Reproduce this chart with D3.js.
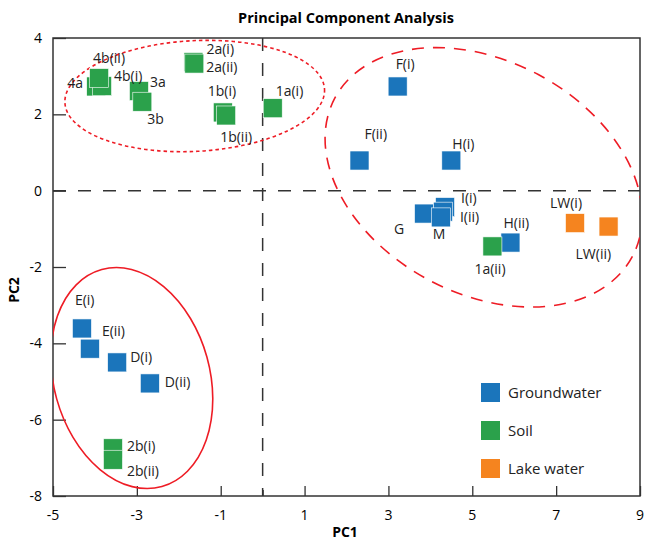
<!DOCTYPE html>
<html lang="en">
<head>
    <meta charset="UTF-8">
    <title>Principal Component Analysis</title>
    <script src="https://d3js.org/d3.v7.min.js"></script>
    <style>
        body {
            margin: 0;
            padding: 0;
            background: #fff;
            font-family: "Open Sans", Arial, sans-serif;
        }
    </style>
</head>
<body>
    <div id="chart"></div>
    <script>
        // sample data
        const groundwaterNames = ["F(i)", "F(ii)", "H(i)", "G", "I(i)", "I(ii)", "M", "H(ii)", "E(i)", "E(ii)", "D(i)", "D(ii)"];
        const groundwaterPC1 = [3.22, 2.31, 4.50, 3.85, 4.35, 4.30, 4.25, 5.91, -4.31, -4.12, -3.47, -2.69];
        const groundwaterPC2 = [2.73, 0.79, 0.79, -0.60, -0.43, -0.55, -0.70, -1.36, -3.61, -4.14, -4.50, -5.05];

        const soilNames = ["2b(i)", "2b(ii)", "1a(ii)", "2a(i)", "2a(ii)", "1b(i)", "1b(ii)", "1a(i)", "3a", "3b", "4a", "4b(i)", "4b(ii)"];
        const soilPC1 = [-3.57, -3.57, 5.48, -1.65, -1.63, -0.95, -0.87, 0.24, -2.95, -2.87, -3.97, -3.83, -3.90];
        const soilPC2 = [-6.75, -7.05, -1.46, 3.37, 3.33, 2.05, 1.97, 2.16, 2.61, 2.33, 2.73, 2.74, 2.95];

        const lakeNames = ["LW(i)", "LW(ii)"];
        const lakePC1 = [7.45, 8.25];
        const lakePC2 = [-0.85, -0.94];

        const legendLabels = ["Groundwater", "Soil", "Lake water"];
        const xTicks = [-5, -3, -1, 1, 3, 5, 7, 9];
        const yTicks = [4, 2, 0, -2, -4, -6, -8];

        // cluster outlines (data units, angle in degrees)
        const clusterCx = [-1.62, 5.27, -3.12];
        const clusterCy = [2.48, 0.35, -4.91];
        const clusterRx = [3.1, 4.02, 1.86];
        const clusterRy = [1.45, 3.05, 2.95];
        const clusterAngle = [-3, 28, -15.5];

        // label placement, px offset from the marker centre
        const labelOffset = {
            "F(i)": [-2, -22], "F(ii)": [5, -27], "H(i)": [1, -17], "G": [-30, 15],
            "I(i)": [16, -9], "I(ii)": [17, 5], "M": [-8, 17], "H(ii)": [-7, -20],
            "E(i)": [-7, -28], "E(ii)": [12, -18], "D(i)": [13, -5], "D(ii)": [15, -1],
            "2b(i)": [14, -2], "2b(ii)": [14, 11], "1a(ii)": [-18, 23], "2a(i)": [13, -13],
            "2a(ii)": [12, 3], "1b(i)": [-15, -21], "1b(ii)": [-6, 22], "1a(i)": [3, -17],
            "3a": [11, -9], "3b": [5, 17], "4a": [-29, -3], "4b(i)": [12, -10],
            "4b(ii)": [-6, -20], "LW(i)": [-25, -20], "LW(ii)": [-33, 27]
        };

        const colors = ["#1b75bb", "#2ba14b", "#f5841f"];

        const width = 645, height = 542;
        const margin = { top: 38, right: 5, bottom: 46, left: 53 };

        const svg = d3.select("#chart").append("svg")
            .attr("width", width)
            .attr("height", height);

        const x = d3.scaleLinear().domain([-5, 9]).range([margin.left, width - margin.right]);
        const y = d3.scaleLinear().domain([-8, 4]).range([height - margin.bottom, margin.top]);

        const series = [
            { names: groundwaterNames, pc1: groundwaterPC1, pc2: groundwaterPC2, color: colors[0] },
            { names: soilNames, pc1: soilPC1, pc2: soilPC2, color: colors[1] },
            { names: lakeNames, pc1: lakePC1, pc2: lakePC2, color: colors[2] }
        ];

        svg.append("defs").append("clipPath").attr("id", "plot-clip")
            .append("rect")
            .attr("x", x(-5)).attr("y", y(4))
            .attr("width", x(9) - x(-5)).attr("height", y(-8) - y(4));

        // title and axis names
        svg.append("text")
            .attr("x", 346).attr("y", 23)
            .attr("text-anchor", "middle")
            .style("font-size", "14.5px").style("font-weight", "bold")
            .text("Principal Component Analysis");

        svg.append("text")
            .attr("x", 345).attr("y", 537)
            .attr("text-anchor", "middle")
            .style("font-size", "14px").style("font-weight", "bold")
            .text("PC1");

        svg.append("text")
            .attr("transform", "translate(19,290) rotate(-90)")
            .attr("text-anchor", "middle")
            .style("font-size", "14px").style("font-weight", "bold")
            .text("PC2");

        // zero lines
        svg.append("line")
            .attr("x1", x(0)).attr("x2", x(0))
            .attr("y1", y(4)).attr("y2", y(-8))
            .attr("stroke", "#333").attr("stroke-width", 1.5)
            .attr("stroke-dasharray", "13,12");
        svg.append("line")
            .attr("x1", x(-5)).attr("x2", x(9))
            .attr("y1", y(0)).attr("y2", y(0))
            .attr("stroke", "#333").attr("stroke-width", 1.5)
            .attr("stroke-dasharray", "13,12");

        // axes, ticks pointing inward
        svg.append("g")
            .attr("transform", `translate(0,${y(-8)})`)
            .call(d3.axisTop(x).tickValues(xTicks).tickSize(10).tickFormat(""))
            .call(g => g.select(".domain").remove());
        svg.append("g")
            .attr("transform", `translate(0,${y(-8)})`)
            .call(d3.axisTop(x).tickValues([0]).tickSize(6).tickFormat(""))
            .call(g => g.select(".domain").remove());
        svg.append("g")
            .attr("transform", `translate(${x(-5)},0)`)
            .call(d3.axisRight(y).tickValues(yTicks).tickSize(13).tickFormat(""))
            .call(g => g.select(".domain").remove());
        svg.selectAll(".tick line").attr("stroke", "#333").attr("stroke-width", 1.3);

        svg.selectAll(".xlab").data(xTicks).join("text")
            .attr("x", d => x(d)).attr("y", y(-8) + 24)
            .attr("text-anchor", "middle")
            .style("font-size", "14px")
            .text(d => d);
        svg.selectAll(".ylab").data(yTicks).join("text")
            .attr("x", x(-5) - 11).attr("y", d => y(d) + 5)
            .attr("text-anchor", "end")
            .style("font-size", "14px")
            .text(d => d);

        svg.append("rect")
            .attr("x", x(-5)).attr("y", y(4))
            .attr("width", x(9) - x(-5)).attr("height", y(-8) - y(4))
            .attr("fill", "none").attr("stroke", "#333").attr("stroke-width", 1.5);

        // cluster ellipses
        const clusterDash = ["3.5,3", "12,9", null];
        const clusters = svg.append("g").attr("clip-path", "url(#plot-clip)");
        clusterCx.forEach((cx, i) => {
            const px = x(cx), py = y(clusterCy[i]);
            clusters.append("ellipse")
                .attr("cx", 0).attr("cy", 0)
                .attr("rx", x(clusterRx[i]) - x(0))
                .attr("ry", y(0) - y(clusterRy[i]))
                .attr("transform", `translate(${px},${py}) rotate(${clusterAngle[i]})`)
                .attr("fill", "none")
                .attr("stroke", "#ee1c25")
                .attr("stroke-width", 1.6)
                .attr("stroke-dasharray", clusterDash[i]);
        });

        // markers and labels
        const sq = 19;
        series.forEach(s => {
            const pts = s.names.map((n, i) => ({ name: n, pc1: s.pc1[i], pc2: s.pc2[i] }));
            svg.append("g").selectAll("rect").data(pts).join("rect")
                .attr("x", d => x(d.pc1) - sq / 2)
                .attr("y", d => y(d.pc2) - sq / 2)
                .attr("width", sq).attr("height", sq)
                .attr("fill", s.color)
                .attr("stroke", "#fff").attr("stroke-width", 0.6);
            svg.append("g").selectAll("text").data(pts).join("text")
                .attr("x", d => x(d.pc1) + labelOffset[d.name][0])
                .attr("y", d => y(d.pc2) + labelOffset[d.name][1] + 5)
                .style("font-size", "14px")
                .attr("fill", "#222")
                .text(d => d.name);
        });

        // legend
        const legend = svg.append("g").attr("transform", "translate(481,383)");
        legendLabels.forEach((label, i) => {
            legend.append("rect")
                .attr("x", 0).attr("y", i * 38)
                .attr("width", sq).attr("height", sq)
                .attr("fill", colors[i]);
            legend.append("text")
                .attr("x", 27).attr("y", i * 38 + 15)
                .style("font-size", "15px")
                .attr("fill", "#222")
                .text(label);
        });
    </script>
</body>
</html>
